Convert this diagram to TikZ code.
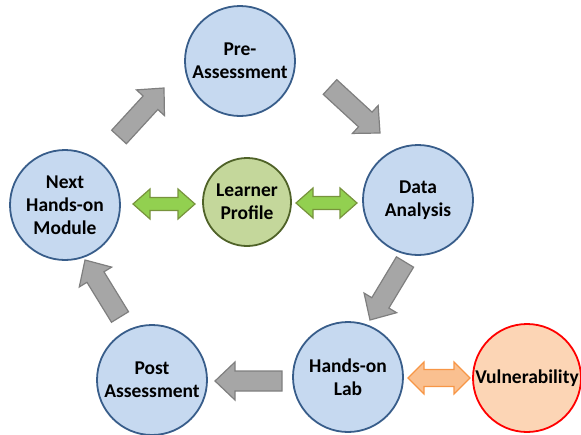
\documentclass[tikz,border=0pt]{standalone}
\usepackage{fontspec}
\setmainfont{Carlito}
\usetikzlibrary{calc}

\definecolor{stageFill}{RGB}{198,217,240}
\definecolor{stageLine}{RGB}{56,93,138}
\definecolor{profileFill}{RGB}{196,215,155}
\definecolor{profileLine}{RGB}{79,98,40}
\definecolor{vulnFill}{RGB}{252,213,181}
\definecolor{vulnLine}{RGB}{255,0,0}
\definecolor{flowFill}{RGB}{166,166,166}
\definecolor{flowLine}{RGB}{127,127,127}
\definecolor{linkFill}{RGB}{146,208,80}
\definecolor{linkLine}{RGB}{119,147,60}
\definecolor{probeFill}{RGB}{250,192,144}
\definecolor{probeLine}{RGB}{247,150,70}

\tikzset{
  disc/.style={circle, inner sep=0pt, minimum size=110pt, line width=1.8pt,
    align=center, font=\fontsize{19.5}{23}\selectfont\bfseries},
  stage/.style={disc, draw=stageLine, fill=stageFill},
  profile/.style={disc, minimum size=88pt, draw=profileLine, fill=profileFill},
  vuln/.style={disc, minimum size=108pt, draw=vulnLine, fill=vulnFill},
  flowarrow/.style={draw=flowLine, fill=flowFill, line width=1.2pt, line join=miter},
  linkarrow/.style={draw=linkLine, fill=linkFill, line width=1.2pt, line join=miter},
  probearrow/.style={draw=probeLine, fill=probeFill, line width=1.2pt, line join=miter},
}

% single block arrow: #1 style, #2 tail, #3 tip, #4 half shaft, #5 half head, #6 head length
\newcommand{\blockarrow}[6]{%
  \draw[#1]
    ($(#2)!#4!-90:(#3)$) --
    ($($(#3)!#6!(#2)$)!#4!-90:(#3)$) --
    ($($(#3)!#6!(#2)$)!#5!-90:(#3)$) --
    (#3) --
    ($($(#3)!#6!(#2)$)!#5!90:(#3)$) --
    ($($(#3)!#6!(#2)$)!#4!90:(#3)$) --
    ($(#2)!#4!90:(#3)$) -- cycle;}

% double block arrow between two ends: #1 style, #2 end A, #3 end B, #4 half shaft, #5 half head, #6 head length
\newcommand{\twinarrow}[6]{%
  \draw[#1]
    (#2) --
    ($($(#2)!#6!(#3)$)!#5!90:(#3)$) --
    ($($(#2)!#6!(#3)$)!#4!90:(#3)$) --
    ($($(#3)!#6!(#2)$)!#4!-90:(#2)$) --
    ($($(#3)!#6!(#2)$)!#5!-90:(#2)$) --
    (#3) --
    ($($(#3)!#6!(#2)$)!#5!90:(#2)$) --
    ($($(#3)!#6!(#2)$)!#4!90:(#2)$) --
    ($($(#2)!#6!(#3)$)!#4!-90:(#3)$) --
    ($($(#2)!#6!(#3)$)!#5!-90:(#3)$) -- cycle;}

\begin{document}
\begin{tikzpicture}[x=1pt, y=-1pt]
  \useasboundingbox (0,0) rectangle (581,434);

  % learning cycle stages
  \node[stage] (pre)  at (240,61)  {Pre-\\Assessment};
  \node[stage] (data) at (418,200) {Data\\Analysis};
  \node[stage] (lab)  at (348,377) {Hands-on\\Lab};
  \node[stage] (post) at (152,380) {Post\\Assessment};
  \node[stage] (next) at (65,205)  {Next\\Hands-on\\Module};
  \node[profile] (learner) at (247,202) {Learner\\Profile};
  \node[vuln] (vul) at (527,378) {Vulnerability};

  % ends of the flow arrows
  \coordinate (f1t) at (119,137); \coordinate (f1h) at (164,88);
  \coordinate (f2t) at (330,87);  \coordinate (f2h) at (380,133);
  \coordinate (f3t) at (405,262); \coordinate (f3h) at (370,320);
  \coordinate (f4t) at (282,381); \coordinate (f4h) at (215,381);
  \coordinate (f5t) at (120,317); \coordinate (f5h) at (85,260);

  \blockarrow{flowarrow}{f1t}{f1h}{10pt}{19pt}{20pt}
  \blockarrow{flowarrow}{f2t}{f2h}{10pt}{19pt}{20pt}
  \blockarrow{flowarrow}{f3t}{f3h}{10pt}{19pt}{20pt}
  \blockarrow{flowarrow}{f4t}{f4h}{10pt}{19pt}{20pt}
  \blockarrow{flowarrow}{f5t}{f5h}{10pt}{19pt}{20pt}

  % links to the learner profile and the vulnerability
  \coordinate (l1a) at (133,204); \coordinate (l1b) at (195,204);
  \coordinate (l2a) at (296,203); \coordinate (l2b) at (357,203);
  \coordinate (v1a) at (408,378); \coordinate (v1b) at (470,378);

  \twinarrow{linkarrow}{l1a}{l1b}{6.5pt}{15pt}{17pt}
  \twinarrow{linkarrow}{l2a}{l2b}{6.5pt}{15pt}{17pt}
  \twinarrow{probearrow}{v1a}{v1b}{8.5pt}{16pt}{16pt}
\end{tikzpicture}
\end{document}
